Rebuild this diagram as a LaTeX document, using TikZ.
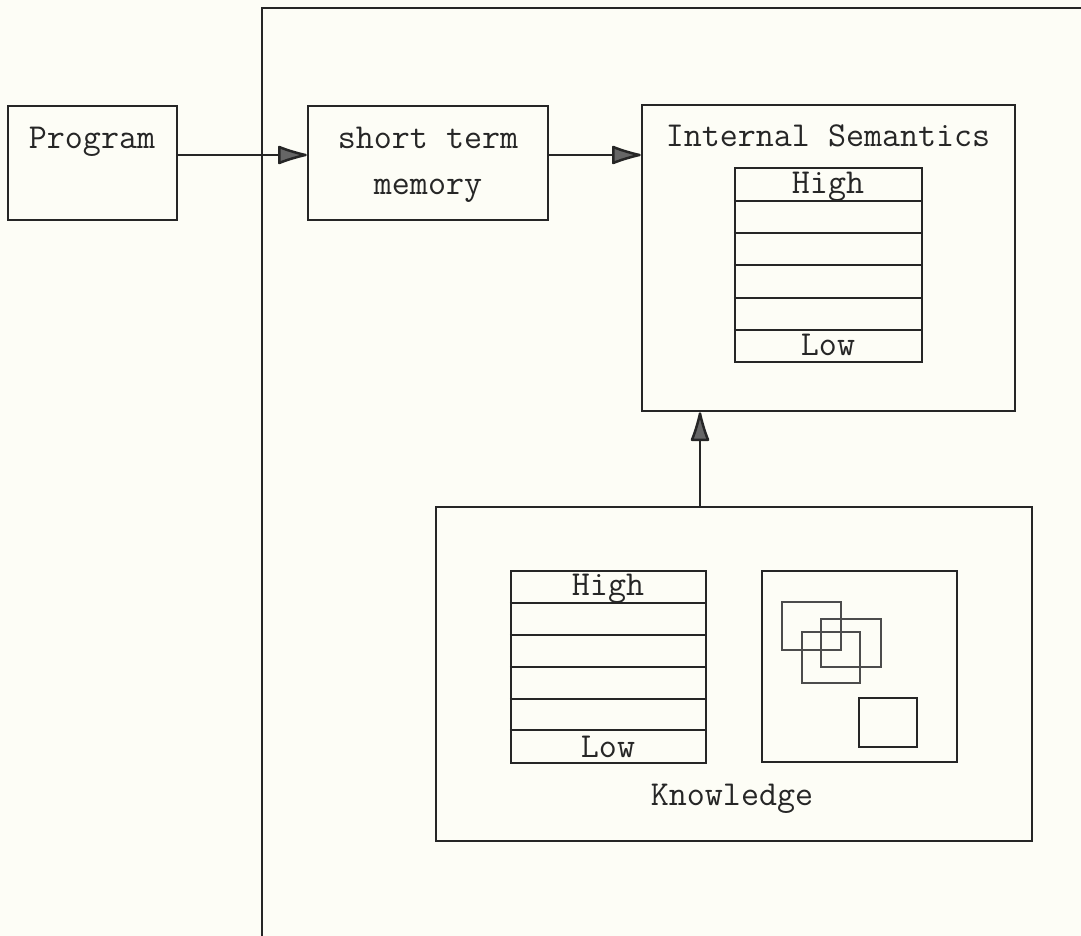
\documentclass[tikz,border=0pt]{standalone}
\usetikzlibrary{arrows.meta,fit}
\definecolor{paper}{RGB}{253,253,246}
\definecolor{ink}{RGB}{38,38,38}
\begin{document}
\begin{tikzpicture}[x=0.5pt,y=-0.5pt,
  box/.style={draw=ink,line width=1.25pt,inner sep=0pt,fit={#1}},
  lbl/.style={anchor=base,inner sep=0pt,font=\fontsize{17.5pt}{21pt}\selectfont\ttfamily,text=ink},
  arr/.style={draw=ink,line width=1.25pt,-{Latex[length=17pt,width=10pt,round,fill=black!60]}},
  rule/.style={draw=ink,line width=1.25pt},
  thin/.style={draw=black!70,line width=1.1pt}]
\fill[paper] (0,0) rectangle (1081,936);
\useasboundingbox (0,0) rectangle (1081,936);
\clip (0,0) rectangle (1081,936);

% outer frame
\coordinate (fb) at (262,940);
\coordinate (ft) at (262,8);
\coordinate (fr) at (1085,8);
\draw[rule] (fb) -- (ft) -- (fr);

% Program
\node[box={(8,106)(177,220)}] (prog) {};
\node[lbl] (progt) at (92,149) {Program};

% short term memory
\node[box={(308,106)(548,220)}] (stm) {};
\node[lbl] (stmt1) at (428,149) {short term};
\node[lbl] (stmt2) at (428,195) {memory};

% Internal Semantics
\node[box={(642,105)(1015,411)}] (is) {};
\node[lbl] (ist) at (828,147) {Internal Semantics};
\node[box={(735,168)(922,362)}] (iss) {};
\foreach \y in {201,233,265,298,330}
  \draw[rule] (iss.west |- 0,\y) -- (iss.east |- 0,\y);
\node[lbl] (issh) at (828,194) {High};
\node[lbl] (issl) at (828,355) {Low};

% Knowledge
\node[box={(436,507)(1032,841)}] (kn) {};
\node[lbl] (knt) at (732,805) {Knowledge};
\node[box={(511,571)(706,763)}] (kns) {};
\foreach \y in {603,635,667,699,730}
  \draw[rule] (kns.west |- 0,\y) -- (kns.east |- 0,\y);
\node[lbl] (knsh) at (608,595) {High};
\node[lbl] (knsl) at (608,757) {Low};
\node[box={(762,571)(957,762)}] (knc) {};
\node[thin,inner sep=0pt,fit={(782,602)(841,650)}] (sq1) {};
\node[thin,inner sep=0pt,fit={(821,619)(881,667)}] (sq2) {};
\node[thin,inner sep=0pt,fit={(802,632)(860,683)}] (sq3) {};
\node[rule,inner sep=0pt,fit={(859,698)(917,747)}] (sq4) {};

% connectors
\draw[arr] (prog.east |- 0,155) -- (stm.west |- 0,155);
\draw[arr] (stm.east |- 0,155) -- (is.west |- 0,155);
\draw[arr] (kn.north -| 700,0) -- (is.south -| 700,0);
\end{tikzpicture}
\end{document}
